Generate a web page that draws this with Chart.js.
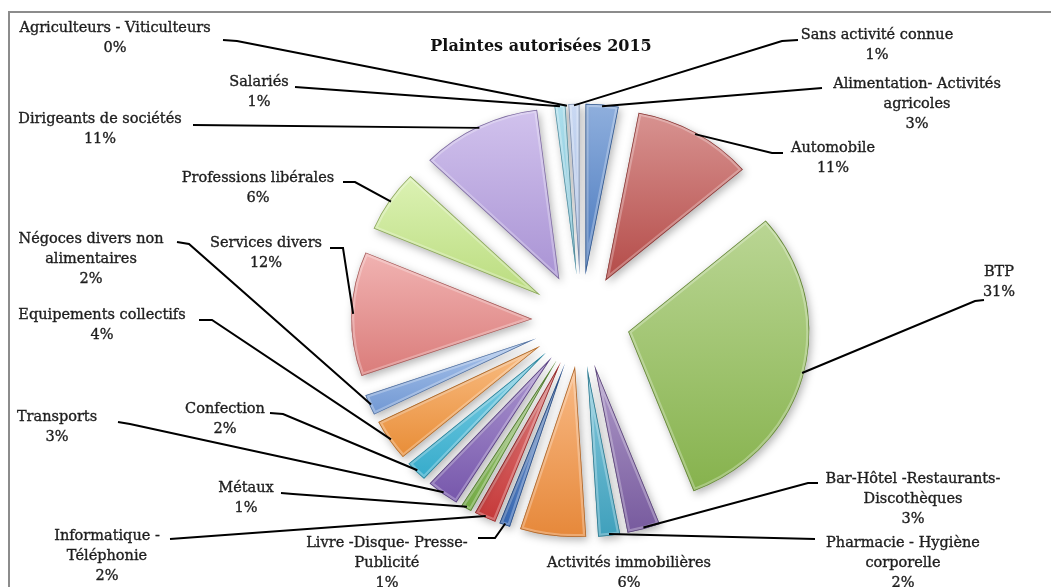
<!DOCTYPE html>
<html lang="fr">
<head>
<meta charset="utf-8">
<title>Plaintes autorisées 2015</title>
<script src="https://cdn.jsdelivr.net/npm/chart.js@4.4.1/dist/chart.umd.min.js"></script>
<style>
  html, body { margin: 0; padding: 0; background: #fff; }
  #wrap { width: 1051px; height: 587px; }
</style>
</head>
<body>
<div id="wrap"><canvas id="plaintes" width="1051" height="587"></canvas></div>
<script>
// Catégories dans l'ordre des secteurs (sens horaire depuis midi)
const categories = [
  ['Alimentation- Activités', 'agricoles'],
  ['Automobile'],
  ['BTP'],
  ['Bar-Hôtel -Restaurants-', 'Discothèques'],
  ['Pharmacie - Hygiène', 'corporelle'],
  ['Activités immobilières'],
  ['Livre -Disque- Presse-', 'Publicité'],
  ['Informatique -', 'Téléphonie'],
  ['Métaux'],
  ['Transports'],
  ['Confection'],
  ['Equipements collectifs'],
  ['Négoces divers non', 'alimentaires'],
  ['Services divers'],
  ['Professions libérales'],
  ['Dirigeants de sociétés'],
  ['Salariés'],
  ['Agriculteurs - Viticulteurs'],
  ['Sans activité connue']
];

// Part des plaintes (%)
const percents = [3, 11, 31, 3, 2, 6, 1, 2, 1, 3, 2, 4, 2, 12, 6, 11, 1, 0, 1];

const sliceColors = [
  '#4a7ec8', '#c0504d', '#8fbd52', '#7f60a8', '#43aac8', '#f5913e',
  '#3a6fc0', '#d23c3c', '#7ab648', '#7d5bb6', '#38b6d8', '#f7963a',
  '#78a2e0', '#e88482', '#c6ea86', '#b49ce2', '#7ccbe2', '#f9c08e', '#a9c2ec'
];

// Emplacement des étiquettes : centre du texte, y de la 1re ligne, départ du trait de rappel
const labelLayout = [
  { x: 917, y: 84,  line: [[822, 88]] },
  { x: 833, y: 148, line: [[783, 153], [772, 153]] },
  { x: 999, y: 272, line: [[984, 300], [975, 301]] },
  { x: 913, y: 479, line: [[818, 483], [808, 483]] },
  { x: 903, y: 543, line: [[815, 539]] },
  { x: 629, y: 563, line: null },
  { x: 387, y: 543, line: [[478, 538], [495, 538]] },
  { x: 107, y: 536, line: [[170, 539]] },
  { x: 246, y: 488, line: [[281, 493], [293, 494]] },
  { x: 57,  y: 417, line: [[118, 422], [130, 424]] },
  { x: 225, y: 409, line: [[270, 413], [283, 414]] },
  { x: 102, y: 315, line: [[199, 320], [212, 320]] },
  { x: 91,  y: 239, line: [[177, 242], [189, 244]] },
  { x: 266, y: 243, line: [[330, 248], [343, 248]] },
  { x: 258, y: 178, line: [[343, 182], [355, 182]] },
  { x: 100, y: 119, line: [[193, 125]] },
  { x: 259, y: 82,  line: [[295, 87]] },
  { x: 115, y: 28,  line: [[223, 40], [237, 41]] },
  { x: 877, y: 35,  line: [[798, 40], [782, 41]] }
];

const explodePx = 47;
const stretchX = 1.035;
const stretchY = 0.977;
const lineGap = 20;
const labelFont = '14.5px "DejaVu Serif"';

function mix(hex, target, t) {
  const n = parseInt(hex.slice(1), 16);
  const r = (n >> 16) & 255, g = (n >> 8) & 255, b = n & 255;
  const m = v => Math.round(v + (target - v) * t);
  return `rgb(${m(r)},${m(g)},${m(b)})`;
}

function slicePath(ctx, cx, cy, r, a0, a1) {
  ctx.beginPath();
  ctx.moveTo(cx, cy);
  ctx.arc(cx, cy, r, a0, a1);
  ctx.closePath();
}

// Secteurs éclatés avec dégradé, ombre et biseau
const bevelSlices = {
  id: 'bevelSlices',
  beforeDatasetDraw(chart, args) {
    const ctx = chart.ctx;
    const arcs = chart.getDatasetMeta(args.index).data;
    ctx.save();
    if (arcs.length) {
      const o = arcs[0].getProps(['x', 'y']);
      ctx.translate(o.x, o.y);
      ctx.scale(stretchX, stretchY);
      ctx.translate(-o.x, -o.y);
    }
    arcs.forEach((arc, i) => {
      const p = arc.getProps(['x', 'y', 'startAngle', 'endAngle', 'outerRadius']);
      if (p.endAngle - p.startAngle <= 0) return;
      const mid = (p.startAngle + p.endAngle) / 2;
      const cx = p.x + Math.cos(mid) * explodePx;
      const cy = p.y + Math.sin(mid) * explodePx;
      const r = p.outerRadius;

      // boîte verticale du secteur pour le dégradé
      let ymin = cy, ymax = cy;
      for (let k = 0; k <= 24; k++) {
        const a = p.startAngle + (p.endAngle - p.startAngle) * k / 24;
        const yy = cy + Math.sin(a) * r;
        ymin = Math.min(ymin, yy);
        ymax = Math.max(ymax, yy);
      }
      const base = sliceColors[i];
      const grad = ctx.createLinearGradient(0, ymin, 0, ymax);
      grad.addColorStop(0, mix(base, 255, 0.38));
      grad.addColorStop(1, mix(base, 0, 0.06));

      ctx.save();
      ctx.shadowColor = 'rgba(0,0,0,0.3)';
      ctx.shadowBlur = 9;
      ctx.shadowOffsetX = 2;
      ctx.shadowOffsetY = 3;
      slicePath(ctx, cx, cy, r, p.startAngle, p.endAngle);
      ctx.fillStyle = grad;
      ctx.fill();
      ctx.restore();

      ctx.save();
      slicePath(ctx, cx, cy, r, p.startAngle, p.endAngle);
      ctx.clip();
      ctx.lineJoin = 'round';
      ctx.lineWidth = 6;
      ctx.strokeStyle = 'rgba(255,255,255,0.28)';
      ctx.stroke();
      ctx.lineWidth = 1.5;
      ctx.strokeStyle = mix(base, 0, 0.3);
      ctx.stroke();
      ctx.restore();
    });
    ctx.restore();
    return false;
  },
  afterDraw(chart) {
    const ctx = chart.ctx;
    ctx.save();

    // cadre
    ctx.strokeStyle = '#8c8c8c';
    ctx.lineWidth = 2;
    ctx.strokeRect(9, 12, 1100, 700);

    // titre
    ctx.fillStyle = '#111';
    ctx.font = 'bold 16px "DejaVu Serif"';
    ctx.textAlign = 'center';
    ctx.textBaseline = 'middle';
    ctx.fillText('Plaintes autorisées 2015', 541, 47);

    const arcs = chart.getDatasetMeta(0).data;
    arcs.forEach((arc, i) => {
      const lay = labelLayout[i];
      const p = arc.getProps(['x', 'y', 'startAngle', 'endAngle', 'outerRadius']);
      const mid = (p.startAngle + p.endAngle) / 2;
      const d = explodePx + p.outerRadius * 0.99;
      const ax = p.x + Math.cos(mid) * d * stretchX;
      const ay = p.y + Math.sin(mid) * d * stretchY;

      if (lay.line) {
        ctx.beginPath();
        ctx.moveTo(lay.line[0][0], lay.line[0][1]);
        lay.line.slice(1).forEach(pt => ctx.lineTo(pt[0], pt[1]));
        ctx.lineTo(ax, ay);
        ctx.strokeStyle = '#000';
        ctx.lineWidth = 2;
        ctx.stroke();
      }

      // texte légèrement épaissi
      const lines = categories[i].concat([percents[i] + '%']);
      ctx.font = labelFont;
      ctx.fillStyle = '#1e1e1e';
      ctx.strokeStyle = '#1e1e1e';
      ctx.lineWidth = 0.35;
      lines.forEach((t, k) => {
        ctx.fillText(t, lay.x, lay.y + k * lineGap);
        ctx.strokeText(t, lay.x, lay.y + k * lineGap);
      });
    });
    ctx.restore();
  }
};

new Chart(document.getElementById('plaintes'), {
  type: 'pie',
  data: {
    labels: categories,
    datasets: [{ data: percents, backgroundColor: sliceColors, borderWidth: 0 }]
  },
  options: {
    responsive: false,
    animation: false,
    devicePixelRatio: 1,
    radius: 175,
    layout: { padding: { left: 211, right: 100, top: 104, bottom: 50 } },
    plugins: {
      legend: { display: false },
      tooltip: { enabled: false },
      title: { display: false }
    }
  },
  plugins: [bevelSlices]
});
</script>
</body>
</html>
